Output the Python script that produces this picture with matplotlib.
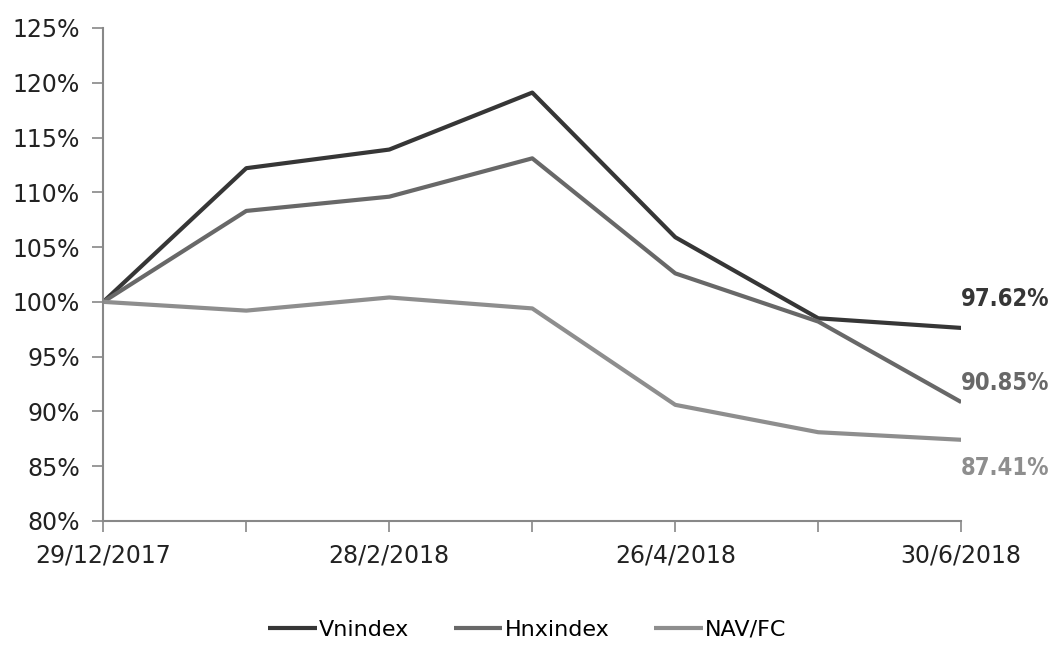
import matplotlib.pyplot as plt
from matplotlib.ticker import FuncFormatter, FixedLocator

dates = ['29/12/2017', '', '28/2/2018', '', '26/4/2018', '', '30/6/2018']
vnindex = [100.0, 112.2, 113.9, 119.1, 105.9, 98.5, 97.62]
hnxindex = [100.0, 108.3, 109.6, 113.1, 102.6, 98.2, 90.85]
navfc = [100.0, 99.2, 100.4, 99.4, 90.6, 88.1, 87.41]

colors = ['#363636', '#686868', '#8e8e8e']
# vertical offset (points) of each end label from the last point
label_dy = [21, 14, -20]

fig = plt.figure(figsize=(10.54, 6.5), dpi=100)
ax = fig.add_axes([0.098, 0.1985, 0.814, 0.7585])

x = list(range(len(dates)))
series = [('Vnindex', vnindex), ('Hnxindex', hnxindex), ('NAV/FC', navfc)]
for (name, values), c, dy in zip(series, colors, label_dy):
    ax.plot(x, values, color=c, lw=3.0, label=name, solid_capstyle='butt')
    ax.annotate('%.2f%%' % values[-1], xy=(x[-1], values[-1]),
                xytext=(0, dy), textcoords='offset points',
                color=c, fontsize=17, fontweight='bold',
                fontstretch='condensed', va='center', ha='left',
                annotation_clip=False)

ax.set_xlim(0, 6)
ax.set_ylim(80, 125)
ax.set_yticks(range(80, 126, 5))
ax.yaxis.set_major_formatter(FuncFormatter(lambda v, p: '%d%%' % v))
ax.xaxis.set_major_locator(FixedLocator(x))
ax.set_xticklabels(dates)

for side in ['top', 'right']:
    ax.spines[side].set_visible(False)
for side in ['left', 'bottom']:
    ax.spines[side].set_color('#888888')
    ax.spines[side].set_linewidth(1.5)
ax.tick_params(axis='both', colors='#888888', length=8, width=1.2,
               labelcolor='#222222', labelsize=17)
ax.tick_params(axis='y', pad=9)
ax.tick_params(axis='x', pad=8)

fig.legend(loc='lower center', ncol=3, frameon=False, fontsize=16,
           bbox_to_anchor=(0.5, -0.015), handlelength=2.2, handletextpad=0.1,
           columnspacing=2.0)

plt.savefig('out.png', dpi=100)
